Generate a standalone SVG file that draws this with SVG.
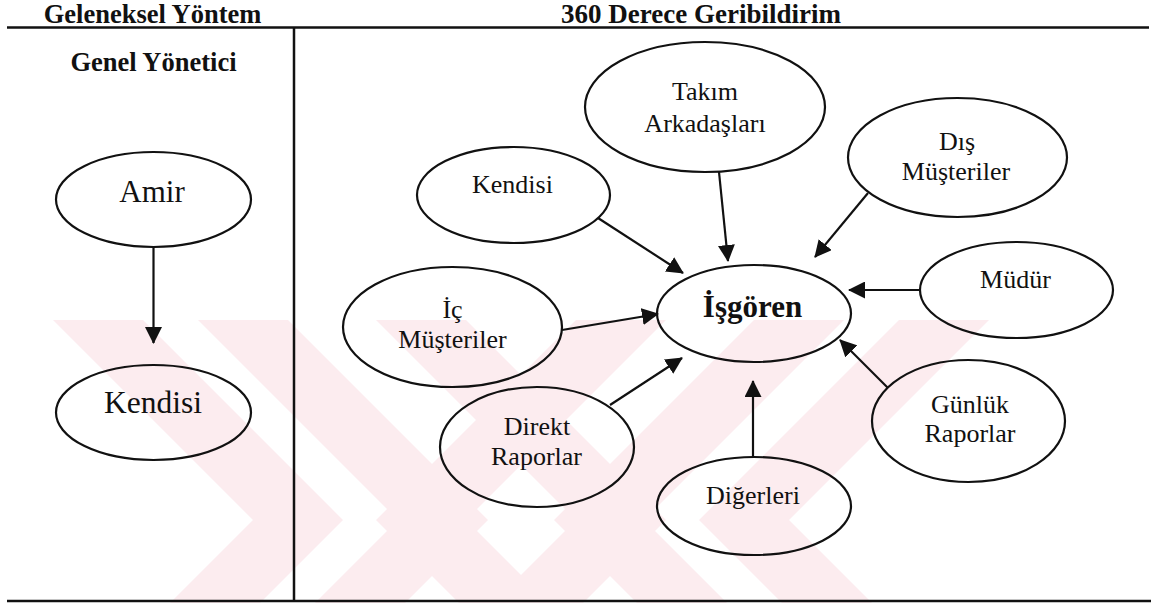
<svg xmlns="http://www.w3.org/2000/svg" width="1151" height="603" viewBox="0 0 1151 603">
<style>
.wm{fill:#fcecef;stroke:none}
.rule{stroke:#111;stroke-width:2.5;fill:none}
.node{fill:none;stroke:#111;stroke-width:2.2}
.lbl{font-family:"Liberation Serif","Times New Roman",serif;font-size:26px;fill:#111;text-anchor:middle}
.big{font-size:31px}
.hdr{font-family:"Liberation Serif","Times New Roman",serif;font-size:26.5px;font-weight:bold;fill:#111;text-anchor:middle}
.conn{stroke:#111;stroke-width:2.2;fill:none;marker-end:url(#ah)}
</style>
<defs>
<marker id="ah" markerUnits="userSpaceOnUse" markerWidth="17" markerHeight="17" refX="16" refY="8.5" orient="auto">
<path d="M0,0 L17,8.5 L0,17 Z" fill="#111"/>
</marker>
</defs>
<rect width="1151" height="603" fill="#fff"/>
<g id="watermark">
<polygon class="wm" points="53,320 143,320 343,520 260,603 170,603 253,520"/>
<polygon class="wm" points="198,320 288,320 488,520 405,603 315,603 398,520"/>
<polygon class="wm" points="376,320 466,320 666,520 583,603 493,603 576,520"/>
<polygon class="wm" points="989,320 899,320 699,520 782,603 872,603 789,520"/>
<polygon class="wm" points="844,320 754,320 554,520 637,603 727,603 644,520"/>
<polygon class="wm" points="666,320 576,320 376,520 459,603 549,603 466,520"/>
</g>
<g id="frame">
<line class="rule" x1="7" y1="27.5" x2="1149" y2="27.5"/>
<line class="rule" x1="294" y1="28" x2="294" y2="601"/>
<line class="rule" x1="7" y1="601" x2="1151" y2="601"/>
<text class="hdr" x="152.5" y="23">Geleneksel Yöntem</text>
<text class="hdr" x="701" y="23" style="font-size:27px">360 Derece Geribildirim</text>
<text class="hdr" x="153.5" y="71">Genel Yönetici</text>
</g>
<g id="connectors">
<line class="conn" x1="153.5" y1="247" x2="153.5" y2="343"/>
<line class="conn" x1="598" y1="218" x2="683" y2="273"/>
<line class="conn" x1="719" y1="172" x2="728" y2="261"/>
<line class="conn" x1="868" y1="193" x2="815" y2="257"/>
<line class="conn" x1="921" y1="290" x2="849" y2="290"/>
<line class="conn" x1="562" y1="330" x2="658" y2="314"/>
<line class="conn" x1="610" y1="405" x2="682" y2="358"/>
<line class="conn" x1="753" y1="458" x2="753" y2="381"/>
<line class="conn" x1="888" y1="388" x2="840" y2="340"/>
</g>
<g id="amir">
<ellipse class="node" cx="153.5" cy="199.5" rx="97.5" ry="47.5"/>
<text class="lbl" x="152" y="202" style="font-size:31px">Amir</text>
</g>
<g id="kendisi-left">
<ellipse class="node" cx="153.5" cy="412.5" rx="97.5" ry="47.5"/>
<text class="lbl" x="153" y="413" style="font-size:31.5px">Kendisi</text>
</g>
<g id="isgoren">
<ellipse class="node" cx="754" cy="313.5" rx="97" ry="48.5"/>
<text class="lbl big" x="752.5" y="317" font-weight="bold">İşgören</text>
</g>
<g id="takim">
<ellipse class="node" cx="705" cy="107" rx="120" ry="65"/>
<text class="lbl" x="705" y="100">Takım</text>
<text class="lbl" x="705" y="132">Arkadaşları</text>
</g>
<g id="kendisi-right">
<ellipse class="node" cx="513.5" cy="195" rx="96.5" ry="48"/>
<text class="lbl" x="512.5" y="193">Kendisi</text>
</g>
<g id="dis-musteriler">
<ellipse class="node" cx="957.5" cy="157.5" rx="109.5" ry="59.5"/>
<text class="lbl" x="957" y="150">Dış</text>
<text class="lbl" x="956" y="180">Müşteriler</text>
</g>
<g id="mudur">
<ellipse class="node" cx="1016.5" cy="290" rx="96.5" ry="48"/>
<text class="lbl" x="1015.5" y="288">Müdür</text>
</g>
<g id="ic-musteriler">
<ellipse class="node" cx="452.5" cy="327" rx="109.5" ry="60"/>
<text class="lbl" x="452.5" y="318">İç</text>
<text class="lbl" x="452.5" y="348">Müşteriler</text>
</g>
<g id="direkt-raporlar">
<ellipse class="node" cx="537" cy="447" rx="97" ry="60"/>
<text class="lbl" x="537" y="435">Direkt</text>
<text class="lbl" x="536.5" y="465">Raporlar</text>
</g>
<g id="digerleri">
<ellipse class="node" cx="754" cy="506" rx="97" ry="49"/>
<text class="lbl" x="753" y="504">Diğerleri</text>
</g>
<g id="gunluk-raporlar">
<ellipse class="node" cx="968.5" cy="421" rx="96.5" ry="61"/>
<text class="lbl" x="970" y="413">Günlük</text>
<text class="lbl" x="970" y="442">Raporlar</text>
</g>
</svg>
